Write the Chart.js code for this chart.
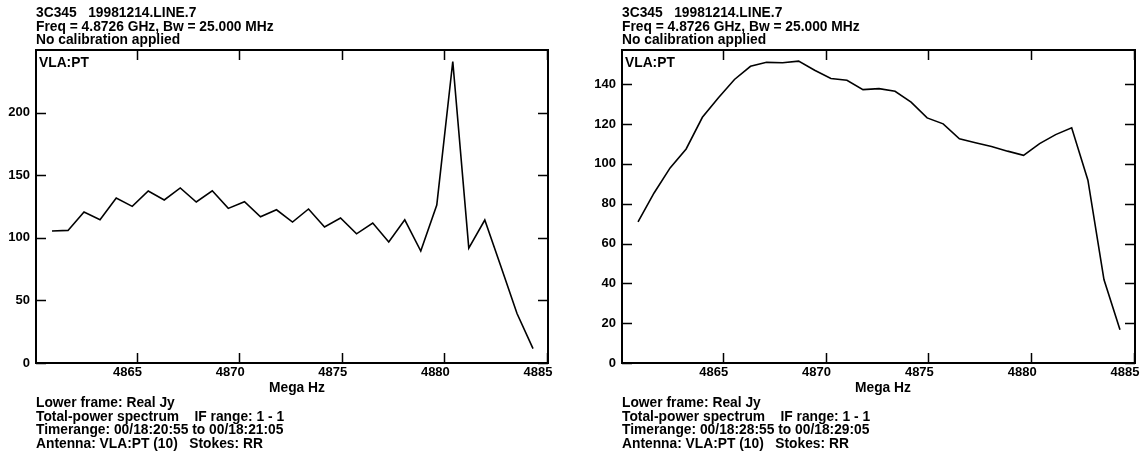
<!DOCTYPE html>
<html>
<head>
<meta charset="utf-8">
<script src="https://cdn.jsdelivr.net/npm/chart.js@4"></script>
<style>
  html, body { margin: 0; padding: 0; background: #fff; }
  body { width: 1141px; height: 454px; position: relative; overflow: hidden;
         font: bold 13.8px "Liberation Sans", Arial, sans-serif; color: #000; }
  canvas { position: absolute; top: 0; }
  .txt { position: absolute; line-height: 13.6px; white-space: pre; }
  .mid { position: absolute; transform: translateX(-50%); white-space: pre; }
</style>
</head>
<body>
<canvas id="left" width="570" height="454" style="left:0"></canvas>
<canvas id="right" width="570" height="454" style="left:571px"></canvas>

<div class="txt" style="left:36px; top:6px">3C345   19981214.LINE.7
Freq = 4.8726 GHz, Bw = 25.000 MHz
No calibration applied</div>
<div class="txt" style="left:622px; top:6px">3C345   19981214.LINE.7
Freq = 4.8726 GHz, Bw = 25.000 MHz
No calibration applied</div>

<div class="txt" style="left:39px; top:56px">VLA:PT</div>
<div class="txt" style="left:625px; top:56px">VLA:PT</div>

<div class="mid" style="left:297px; top:380px">Mega Hz</div>
<div class="mid" style="left:883px; top:380px">Mega Hz</div>

<div class="txt" style="left:36px; top:396px">Lower frame: Real Jy
Total-power spectrum    IF range: 1 - 1
Timerange: 00/18:20:55 to 00/18:21:05
Antenna: VLA:PT (10)   Stokes: RR</div>
<div class="txt" style="left:622px; top:396px">Lower frame: Real Jy
Total-power spectrum    IF range: 1 - 1
Timerange: 00/18:28:55 to 00/18:29:05
Antenna: VLA:PT (10)   Stokes: RR</div>

<script>
// channel frequencies (MHz)
const freqs = [4860.88, 4861.66, 4862.44, 4863.22, 4864.01, 4864.79, 4865.57, 4866.35,
    4867.13, 4867.91, 4868.69, 4869.47, 4870.26, 4871.04, 4871.82, 4872.60,
    4873.38, 4874.16, 4874.94, 4875.72, 4876.51, 4877.29, 4878.07, 4878.85,
    4879.63, 4880.41, 4881.19, 4881.97, 4882.76, 4883.54, 4884.32];

// real Jy, 00/18:20:55 - 00/18:21:05
const leftValues = [105.4, 105.9, 120.6, 114.4, 131.8, 125.1, 137.4, 130.2,
    139.8, 128.6, 137.6, 123.5, 128.8, 116.8, 122.4, 112.6,
    123.0, 108.6, 115.8, 103.2, 111.8, 96.6, 114.4, 89.4,
    126.2, 240.8, 91.8, 114.2, 76.8, 39.5, 11.5];

// real Jy, 00/18:28:55 - 00/18:29:05
const rightValues = [70.9, 85.4, 98.0, 107.5, 123.4, 133.2, 142.4, 149.0,
    151.0, 150.8, 151.6, 147.0, 142.9, 142.0, 137.3, 137.8,
    136.5, 131.0, 123.1, 120.1, 112.6, 110.6, 108.7, 106.4,
    104.3, 110.2, 114.7, 118.1, 91.8, 41.9, 16.7];

const xTicks = [4865, 4870, 4875, 4880, 4885];
const leftYTicks = [0, 50, 100, 150, 200];
const rightYTicks = [0, 20, 40, 60, 80, 100, 120, 140];

const FONT = { family: '"Liberation Sans", Arial, sans-serif', size: 13, weight: 'bold' };

// box + inward ticks on all four sides
const framePlugin = {
    id: 'frame',
    afterDatasetsDraw(chart) {
        const { ctx, chartArea: a, scales: { x, y } } = chart;
        const len = 10;
        ctx.save();
        ctx.strokeStyle = '#000';
        ctx.lineWidth = 2;
        ctx.strokeRect(a.left, a.top, a.right - a.left, a.bottom - a.top);
        ctx.lineWidth = 1.5;
        ctx.beginPath();
        x.ticks.forEach(t => {
            const px = Math.round(x.getPixelForValue(t.value)) + 0.5;
            ctx.moveTo(px, a.bottom); ctx.lineTo(px, a.bottom - len);
            ctx.moveTo(px, a.top); ctx.lineTo(px, a.top + len);
        });
        y.ticks.forEach(t => {
            const py = Math.round(y.getPixelForValue(t.value)) + 0.5;
            ctx.moveTo(a.left, py); ctx.lineTo(a.left + len, py);
            ctx.moveTo(a.right, py); ctx.lineTo(a.right - len, py);
        });
        ctx.stroke();
        ctx.restore();
    }
};

function makeChart(id, values, yMax, yTicks, box) {
    new Chart(document.getElementById(id), {
        type: 'line',
        data: {
            datasets: [{
                data: freqs.map((f, i) => ({ x: f, y: values[i] })),
                borderColor: '#000', borderWidth: 1.6, pointRadius: 0, tension: 0, fill: false
            }]
        },
        options: {
            responsive: false, animation: false,
            layout: { padding: { left: 0, top: 50, right: box.right, bottom: 0 } },
            plugins: { legend: { display: false }, tooltip: { enabled: false } },
            scales: {
                x: {
                    type: 'linear', min: 4860.1, max: 4885.05,
                    grid: { display: false, drawTicks: false }, border: { display: false },
                    afterBuildTicks: s => { s.ticks = xTicks.map(v => ({ value: v })); },
                    afterFit: s => { s.height = box.bottom; s.paddingLeft = 0; s.paddingRight = 0; },
                    ticks: { color: '#000', font: FONT, padding: 2, maxRotation: 0, labelOffset: -9,
                             callback: v => String(v) }
                },
                y: {
                    min: 0, max: yMax,
                    grid: { display: false, drawTicks: false }, border: { display: false },
                    afterBuildTicks: s => { s.ticks = yTicks.map(v => ({ value: v })); },
                    afterFit: s => { s.width = box.left; s.paddingTop = 0; s.paddingBottom = 0; },
                    ticks: { color: '#000', font: FONT, padding: 6, callback: v => String(v) }
                }
            }
        },
        plugins: [framePlugin]
    });
}

makeChart('left', leftValues, 250, leftYTicks, { left: 36, right: 22, bottom: 91 });
makeChart('right', rightValues, 157.2, rightYTicks, { left: 51, right: 6, bottom: 91 });
</script>
</body>
</html>
